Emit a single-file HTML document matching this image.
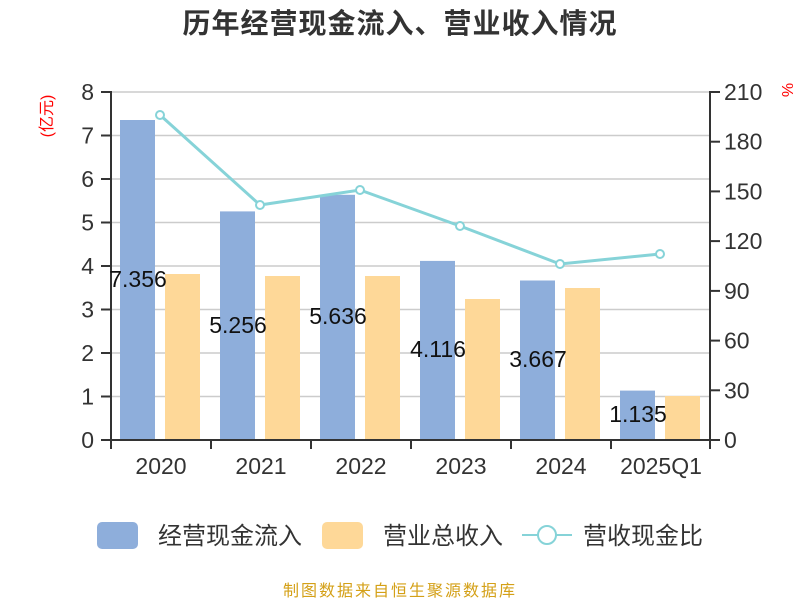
<!DOCTYPE html>
<html><head><meta charset="utf-8"><style>
body{margin:0;background:#fff}
svg text{font-family:"Liberation Sans","Noto Sans CJK SC",sans-serif}
</style></head><body>
<svg width="800" height="600" xmlns="http://www.w3.org/2000/svg">
<rect width="800" height="600" fill="#fff"/>
<text x="400" y="33" text-anchor="middle" font-size="28" font-weight="bold" fill="#333" letter-spacing="1">历年经营现金流入、营业收入情况</text>
<g stroke="#ccc" stroke-width="1.5">
<line x1="111" x2="710" y1="92" y2="92"/><line x1="111" x2="710" y1="135.5" y2="135.5"/>
<line x1="111" x2="710" y1="179" y2="179"/><line x1="111" x2="710" y1="222.5" y2="222.5"/>
<line x1="111" x2="710" y1="266" y2="266"/><line x1="111" x2="710" y1="309.5" y2="309.5"/>
<line x1="111" x2="710" y1="353" y2="353"/><line x1="111" x2="710" y1="396.5" y2="396.5"/>
</g>
<g fill="#8eaedb">
<rect x="120" y="120" width="35" height="320"/>
<rect x="220" y="211.4" width="35" height="228.6"/>
<rect x="320" y="194.8" width="35" height="245.2"/>
<rect x="420" y="260.9" width="35" height="179.1"/>
<rect x="520" y="280.5" width="35" height="159.5"/>
<rect x="620" y="390.6" width="35" height="49.4"/>
</g>
<g fill="#fed898">
<rect x="165" y="274" width="35" height="166"/>
<rect x="265" y="276" width="35" height="164"/>
<rect x="365" y="276" width="35" height="164"/>
<rect x="465" y="299" width="35" height="141"/>
<rect x="565" y="288" width="35" height="152"/>
<rect x="665" y="396" width="35" height="44"/>
</g>
<g stroke="#333" stroke-width="2" fill="none">
<line x1="111" y1="91" x2="111" y2="441"/>
<line x1="710" y1="91" x2="710" y2="441"/>
<line x1="110" y1="440" x2="711" y2="440"/>
</g>
<g stroke="#333" stroke-width="2">
<line x1="101" x2="111" y1="92" y2="92"/><line x1="101" x2="111" y1="135.5" y2="135.5"/><line x1="101" x2="111" y1="179" y2="179"/><line x1="101" x2="111" y1="222.5" y2="222.5"/><line x1="101" x2="111" y1="266" y2="266"/><line x1="101" x2="111" y1="309.5" y2="309.5"/><line x1="101" x2="111" y1="353" y2="353"/><line x1="101" x2="111" y1="396.5" y2="396.5"/><line x1="101" x2="111" y1="440" y2="440"/>
<line x1="710" x2="720" y1="92" y2="92"/><line x1="710" x2="720" y1="141.7" y2="141.7"/><line x1="710" x2="720" y1="191.4" y2="191.4"/><line x1="710" x2="720" y1="241.1" y2="241.1"/><line x1="710" x2="720" y1="290.9" y2="290.9"/><line x1="710" x2="720" y1="340.6" y2="340.6"/><line x1="710" x2="720" y1="390.3" y2="390.3"/><line x1="710" x2="720" y1="440" y2="440"/>
<line x1="111" x2="111" y1="440" y2="449"/><line x1="211" x2="211" y1="440" y2="449"/><line x1="311" x2="311" y1="440" y2="449"/><line x1="411" x2="411" y1="440" y2="449"/><line x1="511" x2="511" y1="440" y2="449"/><line x1="611" x2="611" y1="440" y2="449"/><line x1="710" x2="710" y1="440" y2="449"/>
</g>
<g font-size="23" fill="#333" text-anchor="end">
<text x="94" y="100">8</text><text x="94" y="143.5">7</text><text x="94" y="187">6</text><text x="94" y="230.5">5</text><text x="94" y="274">4</text><text x="94" y="317.5">3</text><text x="94" y="361">2</text><text x="94" y="404.5">1</text><text x="94" y="448">0</text>
</g>
<g font-size="23" fill="#333">
<text x="724" y="100">210</text><text x="724" y="149.7">180</text><text x="724" y="199.4">150</text><text x="724" y="249.1">120</text><text x="724" y="298.9">90</text><text x="724" y="348.6">60</text><text x="724" y="398.3">30</text><text x="724" y="448">0</text>
</g>
<g font-size="23" fill="#333" text-anchor="middle">
<text x="161" y="474">2020</text><text x="261" y="474">2021</text><text x="361" y="474">2022</text><text x="461" y="474">2023</text><text x="561" y="474">2024</text><text x="661" y="474">2025Q1</text>
</g>
<text transform="translate(52,116) rotate(-90)" text-anchor="middle" font-size="16" fill="#f00">(亿元)</text>
<text transform="translate(782,90) rotate(90)" text-anchor="middle" font-size="16" fill="#f00">%</text>
<g font-size="23" fill="#111" text-anchor="middle">
<text x="138" y="287">7.356</text><text x="238" y="333">5.256</text><text x="338" y="324">5.636</text><text x="438" y="357">4.116</text><text x="538" y="367">3.667</text><text x="638" y="422">1.135</text>
</g>
<polyline points="160,115 260,205 360,190 460,226 560,264 660,254" fill="none" stroke="#86d3d8" stroke-width="3"/>
<g fill="#fff" stroke="#86d3d8" stroke-width="2">
<circle cx="160" cy="115" r="4"/><circle cx="260" cy="205" r="4"/><circle cx="360" cy="190" r="4"/><circle cx="460" cy="226" r="4"/><circle cx="560" cy="264" r="4"/><circle cx="660" cy="254" r="4"/>
</g>
<rect x="97" y="522" width="41" height="27" rx="5" fill="#8eaedb"/>
<text x="158" y="544" font-size="24" fill="#333">经营现金流入</text>
<rect x="322" y="522" width="41" height="27" rx="5" fill="#fed898"/>
<text x="383" y="544" font-size="24" fill="#333">营业总收入</text>
<line x1="522" x2="572" y1="535" y2="535" stroke="#86d3d8" stroke-width="2"/>
<circle cx="547" cy="535" r="9" fill="#fff" stroke="#86d3d8" stroke-width="2"/>
<text x="583" y="544" font-size="24" fill="#333">营收现金比</text>
<text x="400" y="596" text-anchor="middle" font-size="16" fill="#d4a017" letter-spacing="2">制图数据来自恒生聚源数据库</text>
</svg>
</body></html>
